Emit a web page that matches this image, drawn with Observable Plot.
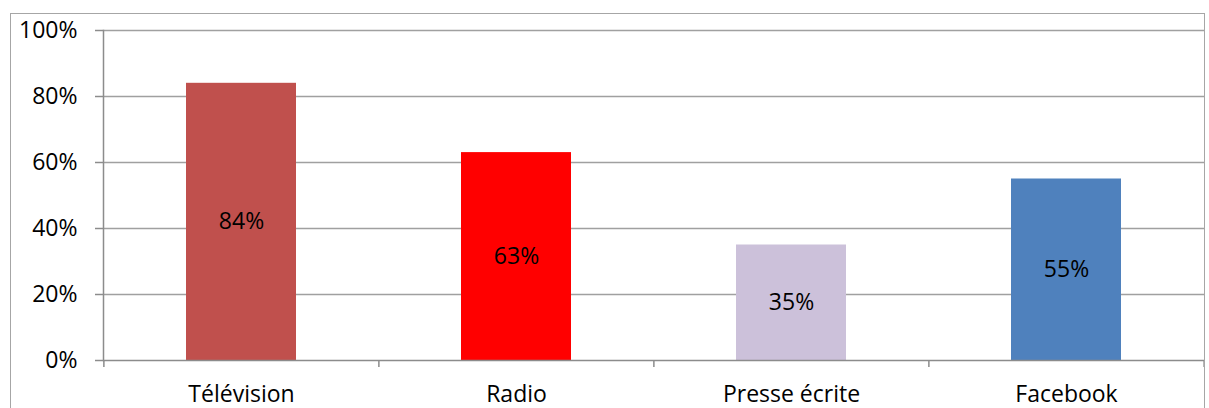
<!DOCTYPE html>
<html>
<head>
<meta charset="utf-8">
<script src="https://cdn.jsdelivr.net/npm/d3@7"></script>
<script src="https://cdn.jsdelivr.net/npm/@observablehq/plot@0.6"></script>
<style>
  html, body { margin: 0; padding: 0; background: #fff; }
  #wrap { position: relative; width: 1209px; height: 408px; overflow: hidden; }
  #border { position: absolute; left: 10px; top: 13px; width: 1195px; height: 420px;
            box-sizing: border-box; border: 1.5px solid #a6a6a6; pointer-events: none; }
</style>
</head>
<body>
<div id="wrap"><div id="border"></div></div>
<script>
const categories = ["Télévision", "Radio", "Presse écrite", "Facebook"];
const values = [0.84, 0.63, 0.35, 0.55];
const colors = ["#C0504D", "#FF0000", "#CCC1DA", "#4F81BD"];
const yTicks = [0, 0.2, 0.4, 0.6, 0.8, 1];

const data = categories.map((c, i) => ({cat: c, value: values[i]}));
const W = 1209, H = 408, mL = 103, mR = 5, mT = 30, mB = 48;
const step = (W - mL - mR) / categories.length;
const pct = d3.format(".0%");
const FS = 23;

const chart = Plot.plot({
  width: W, height: H,
  marginLeft: mL, marginRight: mR, marginTop: mT, marginBottom: mB,
  style: {fontFamily: "'Open Sans', sans-serif", fontSize: FS + "px", color: "#000", background: "transparent", overflow: "visible"},
  x: {domain: categories, paddingInner: 0.6, paddingOuter: 0.3, label: null},
  y: {domain: [0, 1], label: null},
  color: {domain: categories, range: colors},
  marks: [
    Plot.gridY({ticks: yTicks.filter(v => v > 0), stroke: "#a0a0a0", strokeOpacity: 1, strokeWidth: 1.3}),
    Plot.barY(data, {x: "cat", y: "value", fill: "cat"}),
    Plot.text(data, {x: "cat", y: d => d.value / 2, text: d => pct(d.value), fill: "#000", fontSize: FS}),
    Plot.ruleY([0], {stroke: "#8c8c8c", strokeWidth: 1.5}),
    Plot.frame({anchor: "left", stroke: "#8c8c8c", strokeWidth: 1.5}),
    Plot.ruleX(categories, {x: d => d, dx: -step / 2, y1: 0, y2: -7 / 330, stroke: "#8c8c8c", strokeWidth: 1.5}),
    Plot.ruleX([categories[categories.length - 1]], {x: d => d, dx: step / 2, y1: 0, y2: -7 / 330, stroke: "#8c8c8c", strokeWidth: 1.5}),
    Plot.axisY({ticks: yTicks, tickFormat: pct, tickSize: 8, tickPadding: 18, stroke: "#8c8c8c", strokeWidth: 1.5, fill: "#000", fontSize: FS, label: null}),
    Plot.axisX({tickSize: 0, tickPadding: 25, fill: "#000", fontSize: FS, label: null})
  ]
});
document.getElementById("wrap").prepend(chart);
</script>
</body>
</html>
